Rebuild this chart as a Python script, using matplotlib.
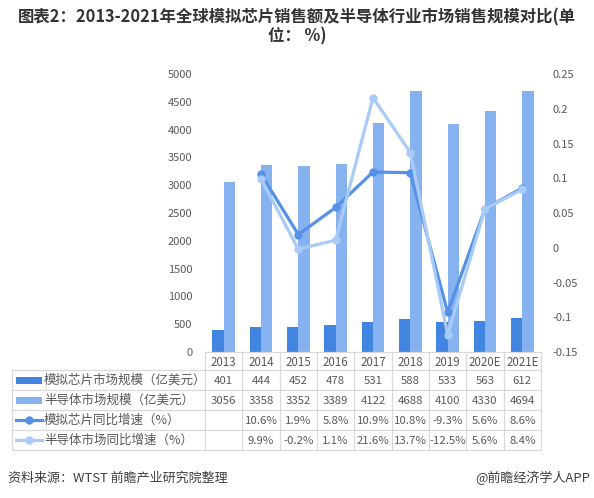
import matplotlib.pyplot as plt
import matplotlib.ticker as mticker
import numpy as np

plt.rcParams['font.family'] = ['Noto Sans CJK SC', 'DejaVu Sans']

# Data
years = ["2013", "2014", "2015", "2016", "2017", "2018", "2019", "2020E", "2021E"]
chip_size = [401, 444, 452, 478, 531, 588, 533, 563, 612]           # 亿美元
semi_size = [3056, 3358, 3352, 3389, 4122, 4688, 4100, 4330, 4694]  # 亿美元
chip_growth = [None, 10.6, 1.9, 5.8, 10.9, 10.8, -9.3, 5.6, 8.6]    # %
semi_growth = [None, 9.9, -0.2, 1.1, 21.6, 13.7, -12.5, 5.6, 8.4]   # %

row_labels = ["模拟芯片市场规模（亿美元）", "半导体市场规模（亿美元）",
              "模拟芯片同比增速（%）", "半导体市场同比增速（%）"]

title = "图表2：2013-2021年全球模拟芯片销售额及半导体行业市场销售规模对比(单\n位： %)"
source = "资料来源：WTST 前瞻产业研究院整理"
brand = "@前瞻经济学人APP"

DARK = "#4285E0"
LIGHT = "#86B2F0"
LINE_DARK = "#5591E6"
LINE_LIGHT = "#A9CBF7"
TXT = "#595959"
GRID = "#D9D9D9"

W, H = 594, 498
fig = plt.figure(figsize=(W / 100, H / 100), dpi=100)

# plot area in pixels
px_l, px_r, px_t, px_b = 205, 541, 74, 352
ax = fig.add_axes([px_l / W, 1 - px_b / H, (px_r - px_l) / W, (px_b - px_t) / H])
x = np.arange(len(years))
ax.bar(x - 0.15, chip_size, width=0.3, color=DARK, zorder=2)
ax.bar(x + 0.15, semi_size, width=0.3, color=LIGHT, zorder=2)
ax.set_xlim(-0.5, len(years) - 0.5)
ax.set_ylim(0, 5000)
ax.set_yticks(range(0, 5001, 500))
ax.set_xticks([])
ax.tick_params(axis='y', length=0, labelsize=8, labelcolor=TXT, pad=9)
for s in ax.spines.values():
    s.set_visible(False)

ax2 = ax.twinx()
gx = [i for i, v in enumerate(chip_growth) if v is not None]
ax2.plot(gx, [chip_growth[i] / 100 for i in gx], color=LINE_DARK, lw=2.3,
         marker='o', ms=5, zorder=3)
gx2 = [i for i, v in enumerate(semi_growth) if v is not None]
ax2.plot(gx2, [semi_growth[i] / 100 for i in gx2], color=LINE_LIGHT, lw=2.3,
         marker='o', ms=5, zorder=4)
ax2.set_ylim(-0.15, 0.25)
ax2.set_yticks(np.arange(-0.15, 0.2501, 0.05))
ax2.yaxis.set_major_formatter(mticker.FuncFormatter(lambda v, p: f"{round(v, 2):g}"))
ax2.tick_params(axis='y', length=0, labelsize=8, labelcolor=TXT, pad=8)
for s in ax2.spines.values():
    s.set_visible(False)

# table in pixel coordinates
tab = fig.add_axes([0, 0, 1, 1], facecolor='none')
tab.set_xlim(0, W)
tab.set_ylim(H, 0)
tab.axis('off')

col_w = (px_r - px_l) / len(years)
rows_y = [352, 370, 390, 410, 430, 450]
left = 12
tab.plot([px_l, px_r], [rows_y[0]] * 2, color=GRID, lw=0.9)
for yy in rows_y[1:]:
    tab.plot([left, px_r], [yy, yy], color=GRID, lw=0.9)
tab.plot([left, left], [rows_y[1], rows_y[-1]], color=GRID, lw=0.9)
for i in range(len(years) + 1):
    xx = px_l + i * col_w
    tab.plot([xx, xx], [rows_y[0], rows_y[-1]], color=GRID, lw=0.9)

for i, yr in enumerate(years):
    tab.text(px_l + (i + 0.5) * col_w, (rows_y[0] + rows_y[1]) / 2 + 1, yr,
             ha='center', va='center', fontsize=8.3, color=TXT)

table_rows = [
    [str(v) for v in chip_size],
    [str(v) for v in semi_size],
    ["" if v is None else f"{v}%" for v in chip_growth],
    ["" if v is None else f"{v}%" for v in semi_growth],
]
for r, vals in enumerate(table_rows):
    yc = (rows_y[r + 1] + rows_y[r + 2]) / 2 + 1
    for i, v in enumerate(vals):
        tab.text(px_l + (i + 0.5) * col_w, yc, v, ha='center', va='center',
                 fontsize=8.2, color=TXT)
    tab.text(44, yc - 1, row_labels[r], ha='left', va='center', fontsize=9, color=TXT)

# legend keys
k0, k1 = 16, 42
y1 = (rows_y[1] + rows_y[2]) / 2
y2 = (rows_y[2] + rows_y[3]) / 2
y3 = (rows_y[3] + rows_y[4]) / 2
y4 = (rows_y[4] + rows_y[5]) / 2
tab.add_patch(plt.Rectangle((k0, y1 - 3.5), k1 - k0, 7, color=DARK, lw=0))
tab.add_patch(plt.Rectangle((k0, y2 - 3.5), k1 - k0, 7, color=LIGHT, lw=0))
tab.plot([k0, k1], [y3, y3], color=LINE_DARK, lw=2.3)
tab.plot([(k0 + k1) / 2], [y3], 'o', color=LINE_DARK, ms=5)
tab.plot([k0, k1], [y4, y4], color=LINE_LIGHT, lw=2.3)
tab.plot([(k0 + k1) / 2], [y4], 'o', color=LINE_LIGHT, ms=5)

fig.text(0.5, 1 - 27 / H, title, ha='center', va='center', fontsize=11.8,
         fontweight='bold', color='#333333', linespacing=1.05)
fig.text(8 / W, 1 - 478 / H, source, ha='left', va='center', fontsize=9.4, color='#404040')
fig.text(590 / W, 1 - 478 / H, brand, ha='right', va='center', fontsize=9.4, color='#404040')

fig.savefig("out.png", dpi=100)
